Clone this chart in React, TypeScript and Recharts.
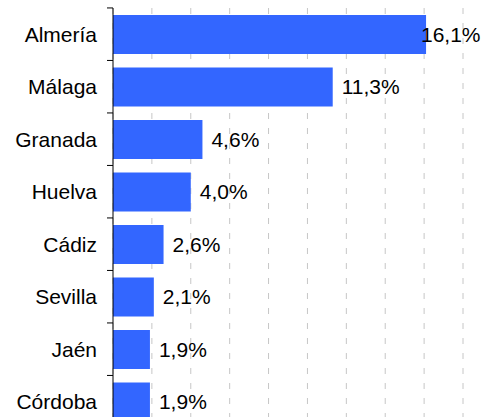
import React from 'react';
import { BarChart, Bar, XAxis, YAxis, CartesianGrid, LabelList } from 'recharts';

const provinces = ['Almería', 'Málaga', 'Granada', 'Huelva', 'Cádiz', 'Sevilla', 'Jaén', 'Córdoba'];
const shares = [16.1, 11.3, 4.6, 4.0, 2.6, 2.1, 1.9, 1.9];
const xTicks = [0, 2, 4, 6, 8, 10, 12, 14, 16, 18];

const data = provinces.map((name, i) => ({ name, value: shares[i] }));

const W = 482;
const H = 431;
const MARGIN = { top: 8, right: 19, bottom: 2, left: 0 };
const FONT = '"Liberation Sans", Arial, sans-serif';
const band = (H - MARGIN.top - MARGIN.bottom) / data.length;

const fmt = (v: number) => v.toFixed(1).replace('.', ',') + '%';

// x ticks are only needed for the grid, so draw nothing for them
const NoTick = () => <g />;

// y tick: label at centre, small tick mark at the band's upper boundary
const ProvinceTick = (props: any) => {
  const { x, y, payload } = props;
  const axisX = x + 16;
  return (
    <g>
      <line x1={axisX - 6} x2={axisX} y1={y - band / 2} y2={y - band / 2} stroke="#000" strokeWidth={1} />
      <text x={x} y={y} dy="0.35em" textAnchor="end" fontSize={21} fontFamily={FONT} fill="#000">
        {payload.value}
      </text>
    </g>
  );
};

const ValueLabel = (props: any) => {
  const { x, y, width, height, value } = props;
  const label = fmt(value);
  const est = label.length * 11.9;
  const start = x + width + 9;
  const fits = start + est <= W - 1;
  return (
    <text
      x={fits ? start : W - 1.5}
      y={y + height / 2}
      dy="0.35em"
      textAnchor={fits ? 'start' : 'end'}
      fontSize={21}
      fontFamily={FONT}
      fill="#000"
    >
      {label}
    </text>
  );
};

export default function App() {
  return (
    <div style={{ position: 'absolute', left: 0, top: 0, background: '#fff' }}>
      <BarChart width={W} height={H} data={data} layout="vertical" margin={MARGIN} barSize={39}>
        <CartesianGrid horizontal={false} stroke="#c6c6c6" strokeDasharray="6 9" />
        <XAxis
          type="number"
          domain={[0, 18]}
          ticks={xTicks}
          interval={0}
          height={1}
          axisLine={false}
          tickLine={false}
          tick={<NoTick />}
        />
        <YAxis
          type="category"
          dataKey="name"
          width={113}
          axisLine={{ stroke: '#000', strokeWidth: 1 }}
          tickLine={false}
          tickSize={6}
          tickMargin={10}
          tick={<ProvinceTick />}
          interval={0}
        />
        <Bar dataKey="value" fill="#3366ff" isAnimationActive={false}>
          <LabelList dataKey="value" content={<ValueLabel />} />
        </Bar>
      </BarChart>
    </div>
  );
}
